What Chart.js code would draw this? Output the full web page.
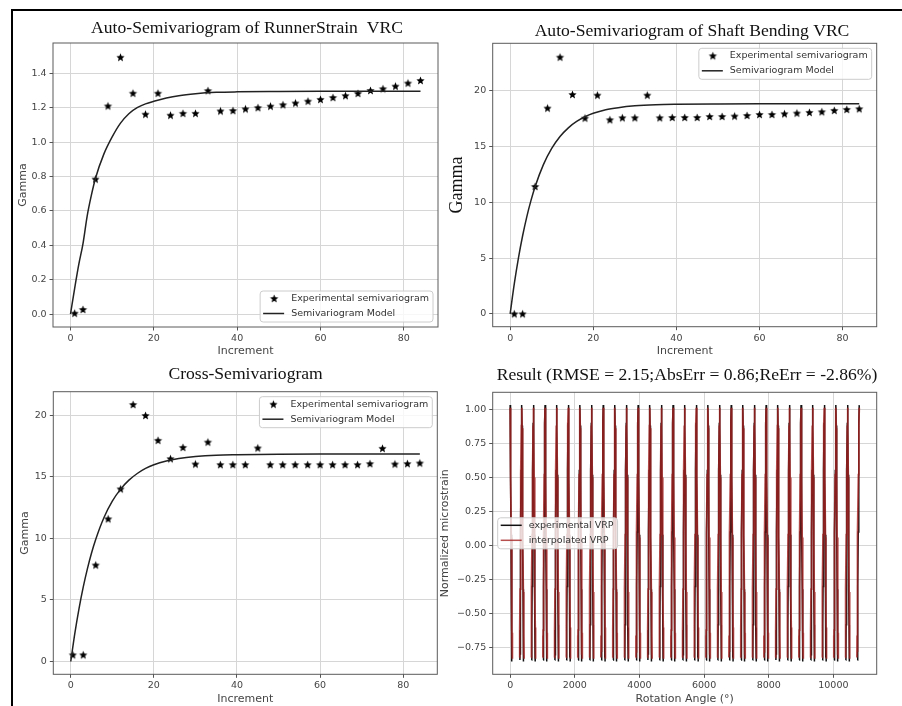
<!DOCTYPE html>
<html>
<head>
<meta charset="utf-8">
<script src="https://cdn.jsdelivr.net/npm/chart.js@4/dist/chart.umd.min.js"></script>
<style>
html, body { margin: 0; padding: 0; background: #fff; }
#fig { position: relative; width: 902px; height: 706px; overflow: hidden; background: #fff; }
#fig canvas { position: absolute; }
.edge { position: absolute; background: #000; }
</style>
</head>
<body>
<div id="fig">
  <div class="edge" style="left:11px;top:9px;width:891px;height:2px"></div>
  <div class="edge" style="left:11px;top:9px;width:2px;height:697px"></div>
  <canvas id="c1" width="436" height="350" style="left:14px;top:12px"></canvas>
  <canvas id="c3" width="436" height="344" style="left:14px;top:362px"></canvas>
  <canvas id="c2" width="466" height="350" style="left:436px;top:12px"></canvas>
  <canvas id="c4" width="466" height="344" style="left:436px;top:362px"></canvas>
</div>
<script>
// semivariogram lags
var lags = [1, 3, 6, 9, 12, 15, 18, 21, 24, 27, 30, 33, 36, 39, 42, 45, 48, 51, 54, 57, 60, 63, 66, 69, 72, 75, 78, 81, 84];
var crossLags = [0.5, 3, 6, 9, 12, 15, 18, 21, 24, 27, 30, 33, 36, 39, 42, 45, 48, 51, 54, 57, 60, 63, 66, 69, 72, 75, 78, 81, 84];
var runnerGamma = [0.005, 0.027, 0.785, 1.21, 1.493, 1.284, 1.162, 1.284, 1.156, 1.167, 1.167, 1.299, 1.181, 1.183, 1.193, 1.20, 1.209, 1.217, 1.227, 1.238, 1.248, 1.259, 1.27, 1.283, 1.30, 1.31, 1.325, 1.343, 1.358];
var shaftGamma = [0, 0, 11.42, 18.45, 23.02, 19.67, 17.55, 19.61, 17.4, 17.58, 17.58, 19.61, 17.58, 17.61, 17.61, 17.61, 17.7, 17.7, 17.73, 17.79, 17.88, 17.88, 17.94, 18.0, 18.06, 18.12, 18.24, 18.33, 18.39];
var crossGamma = [0.54, 0.54, 7.83, 11.58, 14.01, 20.86, 19.97, 17.95, 16.46, 17.38, 16.03, 17.81, 15.98, 15.98, 15.98, 17.33, 15.98, 15.98, 15.98, 15.98, 15.98, 15.98, 15.98, 15.98, 16.06, 17.30, 16.03, 16.06, 16.11];

// fitted models
var modelLags = [0, 1, 2, 3, 4, 5, 6, 8, 10, 12, 14, 16, 18, 20, 23, 26, 30, 35, 40, 50, 60, 84];
var runnerModel = [0, 0.15, 0.29, 0.41, 0.57, 0.69, 0.79, 0.93, 1.03, 1.11, 1.165, 1.20, 1.222, 1.237, 1.256, 1.27, 1.281, 1.289, 1.292, 1.294, 1.295, 1.295];
var shaftModel = [0, 2.70, 5.02, 7.00, 8.70, 10.15, 11.40, 13.38, 14.83, 15.90, 16.68, 17.25, 17.67, 17.98, 18.30, 18.49, 18.65, 18.75, 18.79, 18.82, 18.83, 18.83];
var crossModel = [0, 2.32, 4.32, 6.04, 7.52, 8.81, 9.91, 11.69, 13.01, 13.99, 14.72, 15.26, 15.67, 15.97, 16.28, 16.48, 16.64, 16.75, 16.79, 16.83, 16.84, 16.84];

// VRP: the stroke around each revolution peak (angle offsets in deg), repeated for every revolution
var revolutions = 30;
var experimentalOffsets = [-58, -54, -50, -46, -40, -31, -20, -9, 0, 7, 16, 27, 38, 45, 50, 53, 57];
var experimentalCycle = [-0.84, -0.62, -0.80, -0.58, -0.30, 0.10, 0.55, 0.90, 1.03, 0.88, 0.52, 0.08, -0.32, -0.58, -0.82, -0.60, -0.85];
var interpolatedOffsets = [-72, -68, -64, -59, -51, -40, -25, -11, 0, 9, 20, 34, 47, 56, 62, 66, 71];
var interpolatedCycle = [-0.82, -0.66, -0.78, -0.62, -0.32, 0.08, 0.52, 0.88, 1.01, 0.86, 0.50, 0.06, -0.34, -0.60, -0.80, -0.64, -0.83];

// ticks
var incrementTicks = [0, 20, 40, 60, 80];
var incrementLabels = ['0', '20', '40', '60', '80'];
var runnerTicks = [0, 0.2, 0.4, 0.6, 0.8, 1.0, 1.2, 1.4];
var runnerLabels = ['0.0', '0.2', '0.4', '0.6', '0.8', '1.0', '1.2', '1.4'];
var gammaTicks = [0, 5, 10, 15, 20];
var gammaLabels = ['0', '5', '10', '15', '20'];
var angleTicks = [0, 2000, 4000, 6000, 8000, 10000];
var angleLabels = ['0', '2000', '4000', '6000', '8000', '10000'];
var strainTicks = [-0.75, -0.5, -0.25, 0, 0.25, 0.5, 0.75, 1.0];
var strainLabels = ['\u22120.75', '\u22120.50', '\u22120.25', '0.00', '0.25', '0.50', '0.75', '1.00'];

var tickFont = { family: 'DejaVu Sans', size: 9.5 };
var labelFont = { family: 'DejaVu Sans', size: 11 };
var grey = '#444';

function pts(xs, ys) {
  return xs.map(function (x, i) { return { x: x, y: ys[i] }; });
}

function tile(offsets, cycle) {
  var out = [];
  for (var n = 0; n <= revolutions; n++) {
    for (var i = 0; i < offsets.length; i++) {
      var x = n * 360 + offsets[i];
      if (x < 0 || x > revolutions * 360) continue;
      out.push({ x: x, y: cycle[i] });
    }
    out.push({ x: n * 360 + 180, y: null });
  }
  return out;
}

function makeStar(r) {
  var c = document.createElement('canvas');
  var s = Math.ceil(r * 2) + 2;
  c.width = s; c.height = s;
  var g = c.getContext('2d');
  g.translate(s / 2, s / 2 + 0.4);
  g.beginPath();
  for (var i = 0; i < 10; i++) {
    var rad = i % 2 ? r * 0.45 : r;
    var a = -Math.PI / 2 + i * Math.PI / 5;
    g.lineTo(rad * Math.cos(a), rad * Math.sin(a));
  }
  g.closePath();
  g.fillStyle = '#000';
  g.fill();
  return c;
}
var star = makeStar(4.3);

// frame, legend box and panel title
var decor = {
  id: 'decor',
  afterDatasetsDraw: function (chart, args, o) {
    var ctx = chart.ctx, a = chart.chartArea;
    ctx.save();
    ctx.strokeStyle = '#5a5a5a';
    ctx.lineWidth = 1;
    ctx.strokeRect(a.left, a.top, a.right - a.left, a.bottom - a.top);

    var sets = chart.data.datasets;
    ctx.font = '9.5px "DejaVu Sans"';
    var tw = 0;
    sets.forEach(function (d) { tw = Math.max(tw, ctx.measureText(d.label).width); });
    var w = tw + 35, h = 31;
    var x = o.legendX === 'left' ? a.left + 5 : a.right - 5 - w;
    var y = o.legendY === 'top' ? a.top + 5 : (o.legendY === 'bottom' ? a.bottom - 5 - h : (a.top + a.bottom - h) / 2);
    ctx.beginPath();
    if (ctx.roundRect) ctx.roundRect(x, y, w, h, 3); else ctx.rect(x, y, w, h);
    ctx.fillStyle = 'rgba(255,255,255,0.8)';
    ctx.fill();
    ctx.strokeStyle = '#cccccc';
    ctx.stroke();
    sets.forEach(function (d, i) {
      var ry = y + 7.5 + i * 15;
      if (d.showLine === false) {
        ctx.drawImage(d.pointStyle, x + 14 - d.pointStyle.width / 2, ry - d.pointStyle.height / 2);
      } else {
        ctx.beginPath();
        ctx.moveTo(x + 3, ry);
        ctx.lineTo(x + 24, ry);
        ctx.strokeStyle = d.borderColor;
        ctx.lineWidth = Math.min(d.borderWidth, 1.5);
        ctx.stroke();
      }
      ctx.fillStyle = '#333';
      ctx.textBaseline = 'middle';
      ctx.textAlign = 'left';
      ctx.fillText(d.label, x + 31, ry);
    });
    ctx.restore();
  },
  afterDraw: function (chart, args, o) {
    var ctx = chart.ctx;
    ctx.save();
    ctx.font = '17.6px "Liberation Serif"';
    ctx.fillStyle = '#111';
    ctx.textAlign = 'center';
    ctx.textBaseline = 'alphabetic';
    ctx.fillText(o.title, o.titleX, o.titleY);
    ctx.restore();
  }
};

function scaleSet(c) {
  return {
    x: {
      type: 'linear', min: c.xRange[0], max: c.xRange[1],
      afterBuildTicks: function (s) { s.ticks = c.xTicks.map(function (v) { return { value: v }; }); },
      afterFit: function (s) { s.height = c.xHeight; },
      ticks: { font: tickFont, color: grey, padding: 2.5, maxRotation: 0, autoSkip: false,
               callback: function (v, i) { return c.xLabels[i]; } },
      grid: { color: '#d6d6d6', tickColor: '#555', tickLength: 3.5 },
      border: { display: false },
      title: { display: true, text: c.xTitle, font: labelFont, color: grey, padding: { top: 0, bottom: c.xTitlePad } }
    },
    y: {
      type: 'linear', min: c.yRange[0], max: c.yRange[1],
      afterBuildTicks: function (s) { s.ticks = c.yTicks.map(function (v) { return { value: v }; }); },
      afterFit: function (s) { s.width = c.yWidth; },
      ticks: { font: tickFont, color: grey, padding: 3, autoSkip: false,
               callback: function (v, i) { return c.yLabels[i]; } },
      grid: { color: '#d6d6d6', tickColor: '#555', tickLength: 3.5 },
      border: { display: false },
      title: { display: true, text: c.yTitle, font: c.yTitleFont || labelFont, color: c.yTitleColor || grey,
               padding: { top: c.yTitlePad, bottom: 0 } }
    }
  };
}

function panel(id, datasets, c) {
  return new Chart(document.getElementById(id), {
    type: 'line',
    data: { datasets: datasets },
    options: {
      responsive: false,
      animation: false,
      devicePixelRatio: 1,
      layout: { padding: { left: 0, top: c.padTop, right: c.padRight, bottom: 0 } },
      plugins: { legend: { display: false }, tooltip: { enabled: false }, decor: c.decor },
      scales: scaleSet(c)
    },
    plugins: [decor]
  });
}

function semivariogram(points, model) {
  return [
    { label: 'Experimental semivariogram', data: points, showLine: false, pointStyle: star, pointRadius: 4, order: 1 },
    { label: 'Semivariogram Model', data: model, borderColor: '#222', borderWidth: 1.5, pointRadius: 0,
      cubicInterpolationMode: 'monotone', order: 0 }
  ];
}

panel('c1', semivariogram(pts(lags, runnerGamma), pts(modelLags, runnerModel)), {
  xRange: [-4.2, 88.2], xTicks: incrementTicks, xLabels: incrementLabels, xHeight: 35, xTitle: 'Increment', xTitlePad: 4.7,
  yRange: [-0.075, 1.576], yTicks: runnerTicks, yLabels: runnerLabels, yWidth: 39, yTitle: 'Gamma', yTitlePad: 2.1,
  padTop: 31, padRight: 12,
  decor: { title: 'Auto-Semivariogram of RunnerStrain  VRC', titleX: 233, titleY: 21.3, legendX: 'right', legendY: 'bottom' }
});

panel('c2', semivariogram(pts(lags, shaftGamma), pts(modelLags, shaftModel)), {
  xRange: [-4.2, 88.2], xTicks: incrementTicks, xLabels: incrementLabels, xHeight: 35.3, xTitle: 'Increment', xTitlePad: 4.7,
  yRange: [-1.155, 24.26], yTicks: gammaTicks, yLabels: gammaLabels, yWidth: 56.7, yTitle: 'Gamma', yTitlePad: 10.2,
  yTitleFont: { family: 'Liberation Serif', size: 18 }, yTitleColor: '#111',
  padTop: 31.3, padRight: 25.3,
  decor: { title: 'Auto-Semivariogram of Shaft Bending VRC', titleX: 256, titleY: 23.5, legendX: 'right', legendY: 'top' }
});

panel('c3', semivariogram(pts(crossLags, crossGamma), pts(modelLags, crossModel)), {
  xRange: [-4.2, 88.2], xTicks: incrementTicks, xLabels: incrementLabels, xHeight: 31.7, xTitle: 'Increment', xTitlePad: 0.3,
  yRange: [-1.04, 21.9], yTicks: gammaTicks, yLabels: gammaLabels, yWidth: 39.3, yTitle: 'Gamma', yTitlePad: 4.4,
  padTop: 29.7, padRight: 12.7,
  decor: { title: 'Cross-Semivariogram', titleX: 231.6, titleY: 16.5, legendX: 'right', legendY: 'top' }
});

panel('c4', [
  { label: 'experimental VRP', data: tile(experimentalOffsets, experimentalCycle), borderColor: '#111', borderWidth: 1.5, pointRadius: 0, order: 1 },
  { label: 'interpolated VRP', data: tile(interpolatedOffsets, interpolatedCycle), borderColor: 'rgba(165,35,35,0.8)', borderWidth: 1.8, pointRadius: 0, order: 0 }
], {
  xRange: [-540, 11340], xTicks: angleTicks, xLabels: angleLabels, xHeight: 31.7, xTitle: 'Rotation Angle (\u00b0)', xTitlePad: 0.3,
  yRange: [-0.944, 1.124], yTicks: strainTicks, yLabels: strainLabels, yWidth: 56.7, yTitle: 'Normalized microstrain', yTitlePad: 2.4,
  padTop: 30.3, padRight: 25.3,
  decor: { title: 'Result (RMSE = 2.15;AbsErr = 0.86;ReErr = -2.86%)', titleX: 251, titleY: 18, legendX: 'left', legendY: 'center' }
});
</script>
</body>
</html>
